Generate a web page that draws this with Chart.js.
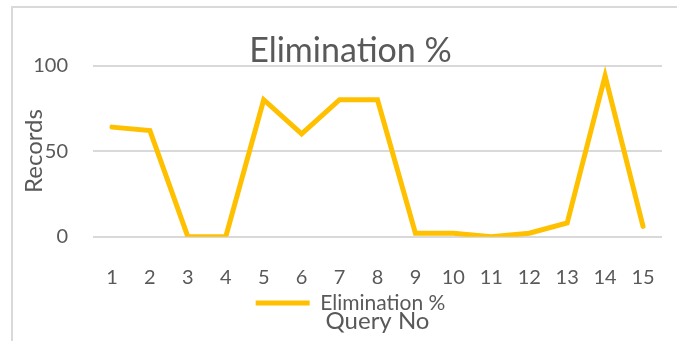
<!DOCTYPE html>
<html lang="en">
<head>
  <meta charset="UTF-8" />
  <title>Elimination %</title>
  <script src="https://cdn.jsdelivr.net/npm/chart.js"></script>
  <style>
    body { margin: 0; background: #fff; overflow: hidden; }
    .frame {
      position: absolute;
      left: 11px;
      top: 6px;
      width: 700px;
      height: 400px;
      border-left: 2px solid #d9d9d9;
      border-top: 2px solid #d9d9d9;
    }
    .chart-box {
      position: absolute;
      left: 0;
      top: 0;
      width: 677px;
      height: 341px;
    }
  </style>
</head>
<body>
  <div class="frame"></div>
  <div class="chart-box">
    <canvas id="elimChart"></canvas>
  </div>

  <script>
    const queryNos = ['1', '2', '3', '4', '5', '6', '7', '8', '9', '10', '11', '12', '13', '14', '15'];
    const eliminationPct = [64, 62, 0, 0, 80, 60, 80, 80, 2, 2, 0, 2, 8, 94, 6];
    const yTicks = [0, 50, 100];

    const textColor = '#595959';
    Chart.defaults.font.family = 'Lato';
    Chart.defaults.color = textColor;

    new Chart(document.getElementById('elimChart').getContext('2d'), {
      type: 'line',
      data: {
        labels: queryNos,
        datasets: [{
          label: 'Elimination %',
          data: eliminationPct,
          borderColor: '#FFC000',
          backgroundColor: '#FFC000',
          borderWidth: 5,
          borderCapStyle: 'round',
          pointRadius: 0,
          tension: 0
        }]
      },
      options: {
        responsive: true,
        maintainAspectRatio: false,
        animation: false,
        layout: { padding: { left: 24, right: 0, top: 0, bottom: 0 } },
        plugins: {
          title: {
            display: true,
            text: 'Elimination %',
            color: textColor,
            font: { size: 34, weight: 'normal', lineHeight: 1.2 },
            padding: { top: 30.6, bottom: -5.9 }
          },
          subtitle: {
            display: true,
            text: 'Query No',
            position: 'bottom',
            fullSize: false,
            color: textColor,
            font: { size: 24, weight: 'normal', lineHeight: 1.2 },
            padding: { top: -16.4, bottom: 5.1 }
          },
          legend: {
            position: 'bottom',
            labels: {
              usePointStyle: true,
              pointStyle: 'line',
              pointStyleWidth: 54,
              padding: 2.8,
              color: textColor,
              font: { size: 21 }
            }
          },
          tooltip: { enabled: false }
        },
        scales: {
          x: {
            offset: true,
            grid: { display: false, drawTicks: false },
            border: { display: false },
            ticks: {
              autoSkip: false,
              maxRotation: 0,
              padding: 20,
              color: textColor,
              font: { size: 20, lineHeight: 2.1 }
            },
            afterFit(scale) { scale.height = 53; }
          },
          y: {
            min: 0,
            max: 100,
            afterBuildTicks(scale) { scale.ticks = yTicks.map(v => ({ value: v })); },
            grid: { color: '#d9d9d9', lineWidth: 2, drawTicks: false },
            border: { display: false },
            ticks: { padding: 25, color: textColor, font: { size: 20 } },
            title: {
              display: true,
              text: 'Records',
              color: textColor,
              font: { size: 24, lineHeight: 1.2 },
              padding: { top: -4.4, bottom: 0 }
            },
            afterFit(scale) { scale.width = 69; }
          },
          // empty right-hand gap between plot and frame edge
          yGap: {
            position: 'right',
            grid: { display: false, drawTicks: false },
            border: { display: false },
            ticks: { display: false },
            afterFit(scale) { scale.width = 15; }
          }
        }
      }
    });
  </script>
</body>
</html>
